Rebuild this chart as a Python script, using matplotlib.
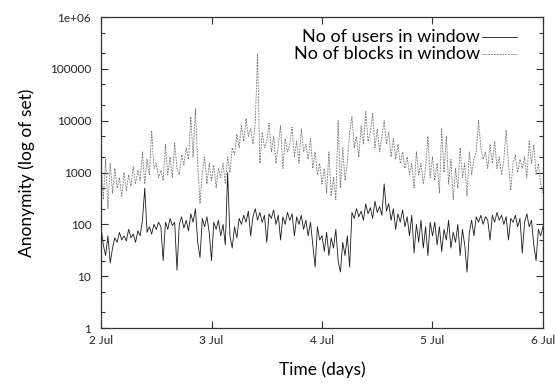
import numpy as np
import matplotlib
matplotlib.use("Agg")
import matplotlib.pyplot as plt
from matplotlib.ticker import FixedLocator, FixedFormatter

plt.rcParams['font.family'] = ['Lato', 'DejaVu Sans']

# half-hourly samples from 2 Jul 00:00 to 6 Jul 00:00
users = [
    # 2 Jul
    90, 40, 25, 60, 18, 35, 55, 45, 70, 50, 60, 48, 80, 55, 65, 45,
    75, 60, 120, 500, 70, 90, 65, 100, 80, 110, 90, 20, 110, 80, 130, 95,
    110, 13, 100, 140, 85, 120, 75, 160, 110, 200, 45, 23, 130, 90, 140, 70,
    # 3 Jul
    20, 110, 80, 120, 60, 100, 40, 1000, 60, 35, 90, 55, 130, 100, 150, 110,
    180, 60, 140, 200, 120, 170, 110, 150, 45, 160, 130, 190, 100, 150, 50, 140,
    100, 170, 120, 160, 60, 140, 100, 150, 80, 120, 60, 110, 40, 15, 90, 50,
    # 4 Jul
    60, 30, 70, 25, 55, 35, 80, 20, 12, 45, 25, 60, 15, 170, 130, 200,
    140, 180, 120, 250, 160, 210, 130, 280, 170, 220, 150, 600, 180, 250, 120, 200,
    80, 160, 110, 190, 90, 140, 60, 150, 28, 100, 45, 120, 35, 90, 25, 110,
    # 5 Jul
    60, 110, 40, 90, 30, 80, 50, 120, 35, 70, 45, 100, 25, 80, 40, 12,
    70, 120, 60, 140, 110, 150, 100, 140, 120, 50, 150, 110, 170, 120, 150, 100,
    140, 50, 130, 110, 150, 90, 130, 28, 110, 160, 90, 120, 40, 20, 80, 60,
    90,
]

blocks = [
    # 2 Jul
    1500, 300, 1800, 200, 1500, 400, 1200, 500, 800, 350, 1000, 450, 900, 550, 1300, 600,
    1100, 700, 2500, 600, 1800, 900, 6500, 1200, 1500, 800, 1100, 700, 3500, 900, 2000, 800,
    3700, 1200, 900, 2200, 1400, 3000, 1800, 12000, 2000, 17000, 1500, 250, 1000, 2000, 600, 1500,
    # 3 Jul
    700, 1400, 500, 1200, 800, 1500, 600, 2000, 1000, 3000, 2200, 5500, 3000, 8000, 4000, 11000,
    5000, 7000, 3500, 9000, 200000, 1500, 6000, 3000, 4000, 9000, 2500, 5000, 1500, 3500, 8000, 1200,
    4500, 2500, 3500, 7500, 2000, 4000, 1500, 7000, 2500, 3500, 1800, 4500, 1200, 2500, 900, 1500,
    # 4 Jul
    600, 1200, 400, 2500, 350, 800, 300, 10000, 500, 3000, 700, 1500, 6000, 12000, 3000, 5000,
    2000, 8000, 3500, 15000, 4000, 6000, 14000, 3000, 7000, 2500, 5000, 10000, 3500, 6000, 2000, 4500,
    1800, 3500, 1500, 2500, 1200, 2000, 900, 1500, 500, 2500, 900, 1500, 600, 1200, 5000, 800,
    # 5 Jul
    2000, 700, 1500, 400, 7000, 1000, 5000, 600, 1800, 300, 1200, 500, 3000, 800, 1500, 350,
    2500, 900, 1800, 2500, 10000, 3000, 1800, 2500, 1200, 3500, 1500, 4000, 1200, 2000, 900, 1800,
    6500, 1500, 450, 1500, 2200, 1000, 1800, 1200, 2000, 800, 4000, 1500, 3500, 900, 1500, 600,
    400,
]

series_names = ['No of users in window', 'No of blocks in window']
day_labels = ['2 Jul', '3 Jul', '4 Jul', '5 Jul', '6 Jul']
y_ticks = [1, 10, 100, 1000, 10000, 100000, 1000000]
y_labels = ['1', '10', '100', '1000', '10000', '100000', '1e+06']

t = np.arange(len(users)) / 48.0  # days since 2 Jul

fig = plt.figure(figsize=(5.56, 3.85), dpi=100)
ax = fig.add_axes([0.1817, 0.148, 0.7949, 0.8078])

styles = [dict(color='#1a1a1a', lw=0.6),
          dict(color='#7a7a7a', lw=0.6, dashes=(2.2, 1.2))]
ax.plot(t, users, **styles[0])
ax.plot(t, blocks, **styles[1])

ax.set_yscale('log')
ax.set_xlim(0, 4)
ax.set_ylim(1, 1e6)

ax.xaxis.set_major_locator(FixedLocator(range(5)))
ax.xaxis.set_major_formatter(FixedFormatter(day_labels))
ax.xaxis.set_minor_locator(FixedLocator([]))
ax.yaxis.set_major_locator(FixedLocator(y_ticks))
ax.yaxis.set_major_formatter(FixedFormatter(y_labels))
minors = [m * 10.0**e for e in range(6) for m in (2, 5)]
ax.yaxis.set_minor_locator(FixedLocator(minors))
ax.yaxis.set_minor_formatter(FixedFormatter([''] * len(minors)))

ax.tick_params(which='both', direction='in', top=True, right=True, width=0.8, color='#333333')
ax.tick_params(which='major', length=5)
ax.tick_params(which='minor', length=3)
ax.tick_params(axis='y', pad=7, labelsize=8.5, labelcolor='#222222')
ax.tick_params(axis='x', pad=5, labelsize=8.5, labelcolor='#222222')
for s in ax.spines.values():
    s.set_linewidth(0.9)
    s.set_color('#333333')

ax.set_ylabel('Anonymity (log of set)', fontsize=12.5, labelpad=11)
ax.set_xlabel('Time (days)', fontsize=12.5, labelpad=11)

# gnuplot-style key: right-aligned text followed by a line sample
for name, st, yk in zip(series_names, styles, [0.936, 0.881]):
    ax.text(0.857, yk, name, transform=ax.transAxes, ha='right', va='center', fontsize=13)
    ax.plot([0.862, 0.941], [yk, yk], transform=ax.transAxes, **st)

fig.savefig('out.png', dpi=100)
